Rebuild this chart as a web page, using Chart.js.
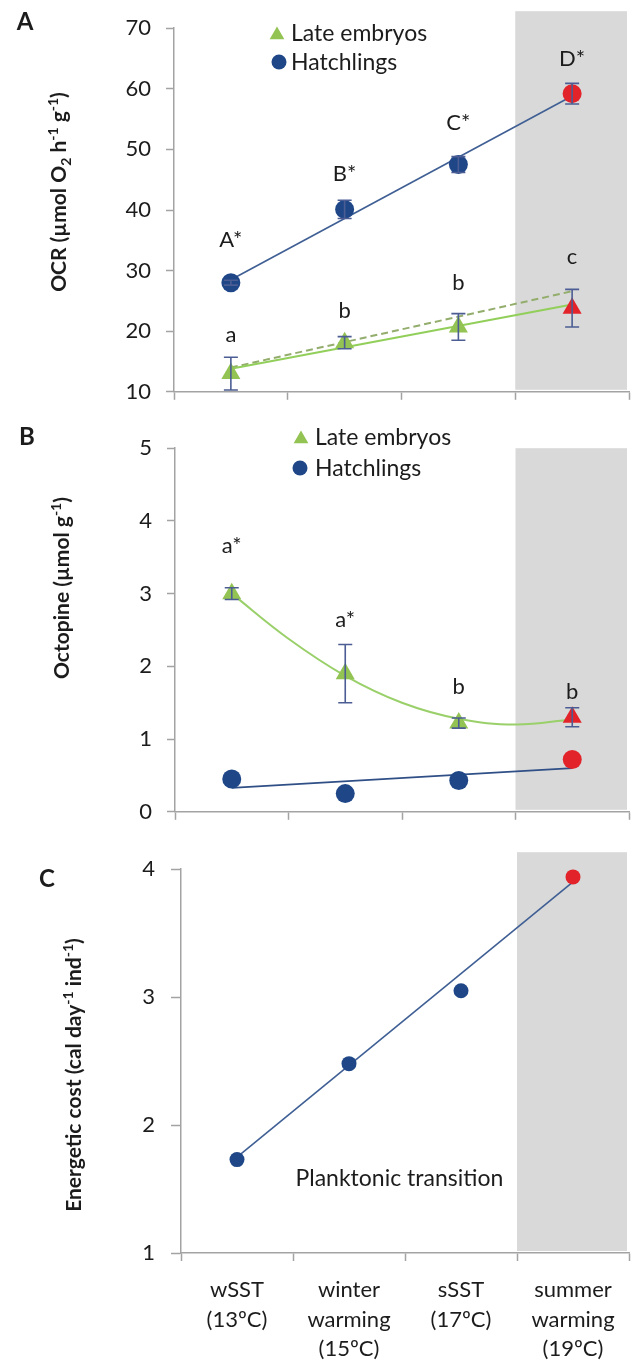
<!DOCTYPE html>
<html>
<head>
<meta charset="utf-8">
<script src="https://cdn.jsdelivr.net/npm/chart.js@4/dist/chart.umd.min.js"></script>
<style>
  body { margin: 0; background: #fff; width: 643px; height: 1366px; position: relative; overflow: hidden; }
  canvas { position: absolute; left: 0; }
</style>
</head>
<body>
<canvas id="chartA" width="643" height="420" style="top:0"></canvas>
<canvas id="chartB" width="643" height="420" style="top:420px"></canvas>
<canvas id="chartC" width="643" height="526" style="top:840px"></canvas>
<script>
// categories (x = 1..4)
const groups = [['wSST', '(13ºC)'], ['winter', 'warming', '(15ºC)'], ['sSST', '(17ºC)'], ['summer', 'warming', '(19ºC)']];
const xPos = [1, 2, 3, 4];
const xTicks = [0.5, 1, 1.5, 2, 2.5, 3, 3.5, 4, 4.5];
const trendX = [1, 4];
const seriesNames = ['Late embryos', 'Hatchlings'];

// A - OCR
const ocrHatch = [28, 40.1, 47.5, 59.2];
const ocrHatchErr = [0.4, 1.5, 1.3, 1.7];
const ocrEmbryo = [13, 18.1, 20.7, 23.8];
const ocrEmbryoErr = [2.7, 1, 2.2, 3.1];
const ocrHatchTrend = [28.5, 58.8];
const ocrEmbryoTrend = [13.8, 24.4];
const ocrEmbryoTrendDash = [14, 26.6];
const ocrHatchLetters = ['A*', 'B*', 'C*', 'D*'];
const ocrHatchLetterY = [35, 46, 54.4, 65];
const ocrEmbryoLetters = ['a', 'b', 'b', 'c'];
const ocrEmbryoLetterY = [19.4, 23.3, 27.9, 32.2];

// B - octopine
const octEmbryo = [3.0, 1.9, 1.22, 1.3];
const octEmbryoErr = [0.08, 0.4, 0.07, 0.13];
const octHatch = [0.45, 0.25, 0.43, 0.72];
const octHatchTrend = [0.33, 0.6];
const octCurveX = [1, 1.5, 2, 2.5, 3, 3.5, 4];
const octCurveY = [3.0, 2.38, 1.87, 1.5, 1.28, 1.2, 1.27];
const octEmbryoLetters = ['a*', 'a*', 'b', 'b'];
const octEmbryoLetterY = [3.66, 2.64, 1.72, 1.65];

// C - energetic cost
const costHatch = [1.73, 2.48, 3.05, 3.94];
const costTrend = [1.75, 3.9];

const BLUE = '#1f4788', GREEN = '#93c353', RED = '#e3232a', ERR = '#4b5d93';
const AXIS = '#a3a3a3', BAND = '#d9d9d9', TXT = '#1c1c1c';

function pts(xs, ys) { return ys.map((y, i) => ({ x: xs[i], y: y })); }

function markerSet(label, vals, style, color, r) {
  const cols = vals.map((v, i) => i === vals.length - 1 ? RED : color);
  return { label: label, data: pts(xPos, vals), showLine: false, pointStyle: style, pointRadius: r,
    pointBackgroundColor: cols, pointBorderColor: cols, pointBorderWidth: 0, order: 0, clip: false };
}
function lineSet(xs, ys, color, width, dash, tension) {
  return { data: pts(xs, ys), showLine: true, pointRadius: 0, borderColor: color, borderWidth: width,
    borderDash: dash || [], tension: tension || 0, order: 1, clip: false };
}

function drawMarker(ctx, style, x, y, r) {
  ctx.beginPath();
  if (style === 'triangle') {
    ctx.moveTo(x, y - r); ctx.lineTo(x + r * 0.866, y + r / 2); ctx.lineTo(x - r * 0.866, y + r / 2); ctx.closePath();
  } else {
    ctx.arc(x, y, r, 0, Math.PI * 2);
  }
  ctx.fill();
}

// grey band behind the last category
const bandPlugin = {
  id: 'band',
  beforeDatasetsDraw(chart, args, o) {
    const { ctx, scales: { x }, chartArea } = chart;
    const l = x.getPixelForValue(3.5), r = x.getPixelForValue(4.5) - 2;
    const top = chartArea.top - o.above;
    ctx.save();
    ctx.fillStyle = BAND;
    ctx.fillRect(l, top, r - l, chartArea.bottom - 2 - top);
    ctx.restore();
  }
};

const errPlugin = {
  id: 'errbars',
  afterDatasetsDraw(chart, args, o) {
    const { ctx, scales: { x, y } } = chart;
    ctx.save();
    ctx.strokeStyle = ERR; ctx.lineWidth = 1.6;
    (o.sets || []).forEach(([vals, errs]) => {
      vals.forEach((v, i) => {
        const px = x.getPixelForValue(xPos[i]);
        const hi = y.getPixelForValue(v + errs[i]), lo = y.getPixelForValue(v - errs[i]);
        ctx.beginPath();
        ctx.moveTo(px, hi); ctx.lineTo(px, lo);
        ctx.moveTo(px - 7, hi); ctx.lineTo(px + 7, hi);
        ctx.moveTo(px - 7, lo); ctx.lineTo(px + 7, lo);
        ctx.stroke();
      });
    });
    ctx.restore();
  }
};

const letterPlugin = {
  id: 'letters',
  afterDatasetsDraw(chart, args, o) {
    const { ctx, scales: { x, y } } = chart;
    ctx.save();
    ctx.fillStyle = TXT; ctx.font = '22px Lato'; ctx.textAlign = 'center'; ctx.textBaseline = 'middle';
    (o.sets || []).forEach(([labels, ys]) => labels.forEach((t, i) => {
      ctx.fillText(t, x.getPixelForValue(xPos[i]), y.getPixelForValue(ys[i]));
    }));
    ctx.font = '23px Lato';
    (o.notes || []).forEach(n => ctx.fillText(n.text, x.getPixelForValue(n.x), y.getPixelForValue(n.y)));
    ctx.restore();
  }
};

const keyPlugin = {
  id: 'key',
  afterDraw(chart, args, o) {
    const ctx = chart.ctx;
    ctx.save();
    ctx.font = '23px Lato'; ctx.textBaseline = 'middle'; ctx.textAlign = 'left';
    (o.items || []).forEach(it => {
      ctx.fillStyle = it.color;
      drawMarker(ctx, it.style, it.mx, it.style === 'triangle' ? it.y + 2 : it.y, it.r);
      ctx.fillStyle = TXT;
      ctx.fillText(it.text, it.tx, it.y + 1);
    });
    ctx.restore();
  }
};

// panel letter + rotated axis title with sub/superscripts
const titlePlugin = {
  id: 'richTitle',
  afterDraw(chart, args, o) {
    const ctx = chart.ctx;
    ctx.save();
    ctx.fillStyle = TXT;
    ctx.font = 'bold 24px Lato'; ctx.textAlign = 'center'; ctx.textBaseline = 'middle';
    ctx.fillText(o.letter, o.letterX, o.letterY);
    const size = o.size;
    const fontFor = k => 'bold ' + (k === 'n' ? size : Math.round(size * 0.65)) + 'px Lato';
    let total = 0;
    o.runs.forEach(r => { ctx.font = fontFor(r[1]); total += ctx.measureText(r[0]).width; });
    ctx.translate(o.x, o.y); ctx.rotate(-Math.PI / 2);
    ctx.textAlign = 'left'; ctx.textBaseline = 'alphabetic';
    let cx = -total / 2;
    o.runs.forEach(r => {
      ctx.font = fontFor(r[1]);
      const dy = r[1] === 'sup' ? -size * 0.38 : r[1] === 'sub' ? size * 0.2 : 0;
      ctx.fillText(r[0], cx, size * 0.35 + dy);
      cx += ctx.measureText(r[0]).width;
    });
    ctx.restore();
  }
};

function scales(p) {
  return {
    x: {
      type: 'linear', min: 0.5, max: 4.5,
      afterBuildTicks: s => { s.ticks = xTicks.map(v => ({ value: v })); },
      afterFit: s => { s.height = p.xH; },
      grid: { display: true, drawOnChartArea: false, drawTicks: true, tickLength: p.xTick,
        tickWidth: 1.5, tickColor: c => (c.tick && Number.isInteger(c.tick.value)) ? 'rgba(0,0,0,0)' : AXIS },
      border: { display: true, color: AXIS, width: 1.5 },
      ticks: { autoSkip: false, maxRotation: 0, minRotation: 0, padding: 14, color: TXT,
        font: { family: 'Lato', size: 22, lineHeight: 1.35 },
        callback: v => (p.xLabels && Number.isInteger(v)) ? groups[v - 1] : '' }
    },
    y: {
      min: p.yMin, max: p.yMax,
      afterFit: s => { s.width = p.yW; },
      grid: { display: true, drawOnChartArea: false, drawTicks: true, tickLength: p.yTick, tickWidth: 1.5, tickColor: AXIS },
      border: { display: true, color: AXIS, width: 1.5 },
      ticks: { stepSize: p.yStep, padding: p.yPad, color: TXT, font: { family: 'Lato', size: 22 } }
    }
  };
}

function makeChart(id, datasets, p, plugOpts) {
  const plugins = { legend: { display: false }, tooltip: { enabled: false } };
  Object.assign(plugins, plugOpts);
  return new Chart(document.getElementById(id), {
    type: 'scatter',
    data: { datasets: datasets },
    options: {
      responsive: false, animation: false, events: [],
      layout: { padding: { left: 0, right: p.right, top: p.top, bottom: 0 } },
      scales: scales(p),
      plugins: plugins
    },
    plugins: [bandPlugin, errPlugin, letterPlugin, keyPlugin, titlePlugin]
  });
}

// ---- A
makeChart('chartA', [
  markerSet(seriesNames[1], ocrHatch, 'circle', BLUE, 9.5),
  markerSet(seriesNames[0], ocrEmbryo, 'triangle', GREEN, 11),
  lineSet(trendX, ocrHatchTrend, '#3f5f94', 1.6),
  lineSet(trendX, ocrEmbryoTrend, '#92cf5a', 2),
  lineSet(trendX, ocrEmbryoTrendDash, '#93ad6c', 2, [7, 4])
], { xH: 23, xTick: 8, yMin: 10, yMax: 70, yStep: 10, yW: 174, yTick: 8, yPad: 15, right: 6, top: 23, xLabels: false }, {
  band: { above: 17 },
  errbars: { sets: [[ocrHatch, ocrHatchErr], [ocrEmbryo, ocrEmbryoErr]] },
  letters: { sets: [[ocrHatchLetters, ocrHatchLetterY], [ocrEmbryoLetters, ocrEmbryoLetterY]] },
  key: { items: [
    { style: 'triangle', color: GREEN, r: 8.5, mx: 277, tx: 291, y: 33, text: seriesNames[0] },
    { style: 'circle', color: BLUE, r: 7.5, mx: 279, tx: 291, y: 62, text: seriesNames[1] }
  ] },
  richTitle: { letter: 'A', letterX: 25, letterY: 22, x: 59, y: 192, size: 21,
    runs: [['OCR (µmol O', 'n'], ['2', 'sub'], [' h', 'n'], ['-1', 'sup'], [' g', 'n'], ['-1', 'sup'], [')', 'n']] }
});

// ---- B
makeChart('chartB', [
  markerSet(seriesNames[1], octHatch, 'circle', BLUE, 9.5),
  markerSet(seriesNames[0], octEmbryo, 'triangle', GREEN, 11),
  lineSet(trendX, octHatchTrend, '#2f4f86', 1.8),
  lineSet(octCurveX, octCurveY, '#9ad06a', 2, [], 0.4)
], { xH: 17, xTick: 8, yMin: 0, yMax: 5, yStep: 1, yW: 175, yTick: 8, yPad: 15, right: 6, top: 16, xLabels: false }, {
  band: { above: 0 },
  errbars: { sets: [[octEmbryo, octEmbryoErr]] },
  letters: { sets: [[octEmbryoLetters, octEmbryoLetterY]] },
  key: { items: [
    { style: 'triangle', color: GREEN, r: 8.5, mx: 301, tx: 315, y: 17, text: seriesNames[0] },
    { style: 'circle', color: BLUE, r: 7.5, mx: 300, tx: 315, y: 48, text: seriesNames[1] }
  ] },
  richTitle: { letter: 'B', letterX: 27, letterY: 17, x: 62, y: 168, size: 21,
    runs: [['Octopine (µmol g', 'n'], ['-1', 'sup'], [')', 'n']] }
});

// ---- C
makeChart('chartC', [
  markerSet(seriesNames[1], costHatch, 'circle', BLUE, 7.5),
  lineSet(trendX, costTrend, '#3f5f94', 1.6)
], { xH: 113, xTick: 8, yMin: 1, yMax: 4, yStep: 1, yW: 181, yTick: 10, yPad: 16, right: 3, top: 28, xLabels: true }, {
  band: { above: 17 },
  letters: { notes: [{ text: 'Planktonic transition', x: 2.45, y: 1.58 }] },
  richTitle: { letter: 'C', letterX: 47, letterY: 39, x: 74, y: 235, size: 21,
    runs: [['Energetic cost (cal day', 'n'], ['-1', 'sup'], [' ind', 'n'], ['-1', 'sup'], [')', 'n']] }
});
</script>
</body>
</html>
